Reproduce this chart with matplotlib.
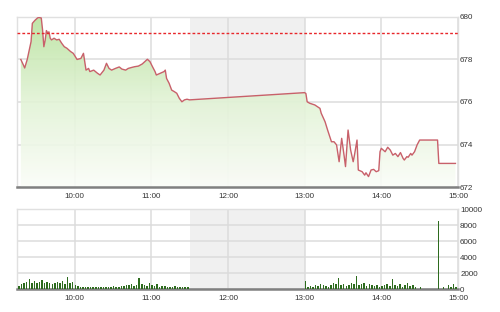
import numpy as np
import matplotlib
matplotlib.use("Agg")
import matplotlib.pyplot as plt
from matplotlib.colors import LinearSegmentedColormap

# ---------------- data ----------------
price_times = ["9:18","9:20","9:21","9:23","9:26","9:27","9:29","9:31","9:32","9:34",
               "9:35","9:36","9:37","9:38","9:39","9:40","9:41","9:42","9:44","9:46",
               "9:48","9:50","9:52","9:54","9:57","9:59","10:02","10:05","10:07","10:09",
               "10:11","10:12","10:15","10:18","10:20","10:23","10:25","10:27","10:29","10:32",
               "10:35","10:37","10:40","10:42","10:45","10:47","10:50","10:53","10:55","10:57",
               "10:59","11:01","11:03","11:04","11:07","11:10","11:11","11:12","11:14","11:16",
               "11:18","11:20","11:22","11:24","11:26","11:28","11:30",
               "13:00","13:01","13:02","13:04","13:08","13:12","13:13","13:16","13:18","13:21",
               "13:23","13:25","13:27","13:29","13:31","13:32","13:34","13:36","13:38","13:39",
               "13:41","13:42","13:45","13:47","13:48","13:50","13:52","13:54","13:56","13:58",
               "13:59","14:00","14:03","14:05","14:07","14:09","14:11","14:13","14:15","14:17",
               "14:18","14:20","14:21","14:23","14:24","14:26","14:27","14:28","14:30","14:44",
               "14:45","14:58"]
price_values = [678.00,677.74,677.60,678.00,678.84,679.70,679.84,679.95,679.98,679.95,
                679.39,678.60,678.90,679.36,679.25,679.30,679.00,678.92,679.00,678.92,
                678.95,678.76,678.60,678.53,678.37,678.29,678.00,678.05,678.29,677.50,
                677.58,677.43,677.50,677.35,677.27,677.50,677.82,677.58,677.50,677.58,
                677.65,677.55,677.50,677.58,677.63,677.66,677.69,677.79,677.90,678.01,
                677.90,677.66,677.43,677.27,677.35,677.43,677.50,677.11,676.88,676.56,
                676.49,676.41,676.17,676.01,676.10,676.13,676.10,
                676.44,676.40,676.01,675.94,675.86,675.70,675.47,675.07,674.68,674.13,
                674.13,673.98,673.19,674.29,673.43,672.96,674.68,673.74,673.19,673.50,
                674.21,672.80,672.72,672.56,672.67,672.49,672.80,672.83,672.72,672.77,
                673.66,673.82,673.66,673.87,673.74,673.50,673.58,673.43,673.62,673.35,
                673.27,673.43,673.40,673.58,673.50,673.66,673.82,673.98,674.21,674.21,
                673.11,673.11]
reference_price = 679.25

vol_morning_start = "9:16"
vol_morning = [400,600,700,900,1300,800,1000,700,900,1100,800,900,700,600,800,900,700,1000,
               600,1500,700,900,500,400,300,250,300,200,300,250,200,300,250,300,200,300,
               250,350,300,250,400,350,500,450,600,400,500,1400,600,500,400,700,500,400,
               600,300,400,350,300,250,300,350,300,250,300,250,200]
vol_afternoon_start = "13:00"
vol_afternoon = [1000,300,400,300,500,400,600,500,400,300,500,700,600,1400,500,600,400,500,
                 700,600,1600,500,600,700,400,600,500,400,500,300,400,500,600,400,1300,500,
                 400,600,300,500,700,400,500,300,0,300,0,0,0,0,0,0,8500,0,300,0,500,300,600,300]
vol_step_min = 2

hour_ticks = ["10:00","11:00","12:00","13:00","14:00","15:00"]
price_ticks = [672, 674, 676, 678, 680]
vol_ticks = [0, 2000, 4000, 6000, 8000, 10000]
x_start, x_end = "9:15", "15:00"
break_start, break_end = "11:30", "13:00"


def to_h(s):
    h, m = s.split(":")
    return int(h) + int(m) / 60.0


pt = np.array([to_h(t) for t in price_times])
pv = np.array(price_values)
vm_t = to_h(vol_morning_start) + np.arange(len(vol_morning)) * vol_step_min / 60.0
va_t = to_h(vol_afternoon_start) + np.arange(len(vol_afternoon)) * vol_step_min / 60.0
xmin, xmax = to_h(x_start), to_h(x_end)
b0, b1 = to_h(break_start), to_h(break_end)
tick_pos = [to_h(t) for t in hour_ticks]

plt.rcParams['font.family'] = ['Liberation Sans', 'DejaVu Sans']

fig = plt.figure(figsize=(5.0, 3.12), dpi=100)
fig.patch.set_facecolor("white")

ax1 = fig.add_axes([0.034, 0.4006, 0.882, 0.545])
ax2 = fig.add_axes([0.034, 0.0737, 0.882, 0.2563])

grid_c = "#dcdcdc"
label_c = "#333333"

for ax in (ax1, ax2):
    ax.set_xlim(xmin, xmax)
    ax.axvspan(b0, b1, color="#f0f0f0", zorder=0, lw=0)
    ax.set_xticks(tick_pos)
    ax.set_xticklabels(hour_ticks)
    ax.yaxis.tick_right()
    ax.tick_params(length=0, labelsize=5.8, labelcolor=label_c)
    ax.tick_params(axis="x", pad=4.2)
    ax.tick_params(axis="y", pad=1.5)
    ax.grid(True, color=grid_c, lw=1.1, zorder=1)
    ax.set_axisbelow(True)
    for s in ("top", "left", "right"):
        ax.spines[s].set_color("#e0e0e0")
        ax.spines[s].set_linewidth(1.0)
    ax.spines["bottom"].set_color("#808080")
    ax.spines["bottom"].set_linewidth(1.8)

# ---- price panel ----
ax1.set_ylim(price_ticks[0], price_ticks[-1])
ax1.set_yticks(price_ticks)
ax1.set_yticklabels([str(v) for v in price_ticks])

cmap = LinearSegmentedColormap.from_list("g", ["#fbfdf8", "#e2f3d6", "#b9e29e"])
grad = np.linspace(0, 1, 256).reshape(-1, 1)
poly = ax1.fill_between(pt, pv, price_ticks[0], color="none", lw=0)
im = ax1.imshow(grad, extent=[xmin, xmax, price_ticks[0], price_ticks[-1]],
                origin="lower", aspect="auto", cmap=cmap, alpha=0.9, zorder=2)
path = poly.get_paths()[0]
im.set_clip_path(path, transform=ax1.transData)

ax1.plot(pt, pv, color="#c8606a", lw=1.0, zorder=4)
ax1.axhline(reference_price, color="#e8262a", lw=1.0, ls=(0, (2, 1.5)), zorder=5)

# ---- volume panel ----
ax2.set_ylim(vol_ticks[0], vol_ticks[-1])
ax2.set_yticks(vol_ticks)
ax2.set_yticklabels([str(v) for v in vol_ticks])
ax2.bar(vm_t, vol_morning, width=1.2 / 60, color="#2d6b1e", lw=0, zorder=3, align="edge")
ax2.bar(va_t, vol_afternoon, width=1.2 / 60, color="#2d6b1e", lw=0, zorder=3, align="edge")

fig.savefig("out.png", dpi=100, facecolor="white")
